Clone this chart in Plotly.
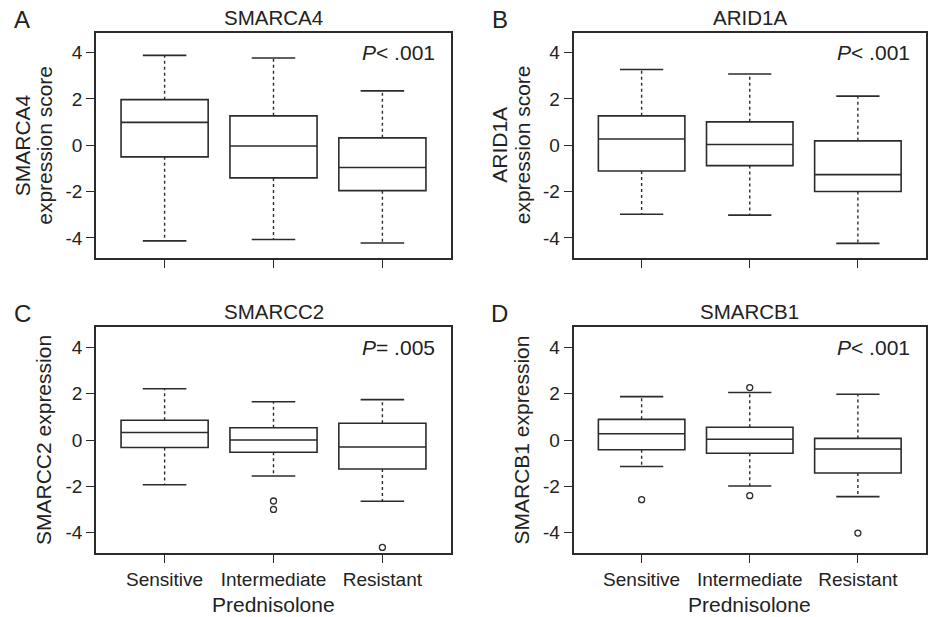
import plotly.graph_objects as go

W, H = 931, 617

categories = ["Sensitive", "Intermediate", "Resistant"]
ytick_vals = [-4, -2, 0, 2, 4]
ytick_text = ["-4", "-2", "0", "2", "4"]

panels = ["A", "B", "C", "D"]
titles = ["SMARCA4", "ARID1A", "SMARCC2", "SMARCB1"]
ylabels = [["SMARCA4", "expression score"], ["ARID1A", "expression score"],
           ["SMARCC2 expression"], ["SMARCB1 expression"]]
pvalues = ["<i>P</i>&lt; .001", "<i>P</i>&lt; .001", "<i>P</i>= .005", "<i>P</i>&lt; .001"]

# box statistics per panel: Sensitive, Intermediate, Resistant
lower_whisker = [[-4.13, -4.07, -4.22], [-2.98, -3.02, -4.24], [-1.93, -1.55, -2.64], [-1.14, -1.98, -2.44]]
q1_vals = [[-0.50, -1.41, -1.96], [-1.11, -0.88, -2.00], [-0.32, -0.53, -1.25], [-0.42, -0.57, -1.42]]
medians = [[0.99, -0.03, -0.96], [0.27, 0.03, -1.27], [0.32, 0.00, -0.30], [0.27, 0.03, -0.39]]
q3_vals = [[1.97, 1.27, 0.32], [1.27, 1.01, 0.19], [0.85, 0.53, 0.72], [0.89, 0.55, 0.07]]
upper_whisker = [[3.88, 3.77, 2.35], [3.27, 3.08, 2.12], [2.21, 1.65, 1.74], [1.87, 2.05, 1.97]]
outliers = [[[], [], []], [[], [], []], [[], [-2.63, -2.99], [-4.63]], [[-2.57], [2.26, -2.40], [-4.01]]]

# layout (pixel frames of each panel: left, right, top, bottom)
frames = [(96, 451, 32.5, 258), (573.5, 926, 32.5, 258), (96, 451, 327, 553), (573.5, 926, 327, 553)]

LINE = "#2b2b2b"
TEXT = "#222222"
FONT = "Liberation Sans, Arial, sans-serif"
BOX_W = 0.8
CAP_HALF = 0.2

def px(x):
    return x / W

def py(y):
    return 1 - y / H

fig = go.Figure()
annotations = []

for k in range(4):
    xa = "x" if k == 0 else f"x{k+1}"
    ya = "y" if k == 0 else f"y{k+1}"
    xpos = list(range(len(categories)))
    # dotted whiskers
    wx, wy = [], []
    cx, cy = [], []
    for i in xpos:
        wx += [i, i, None, i, i, None]
        wy += [q3_vals[k][i], upper_whisker[k][i], None, q1_vals[k][i], lower_whisker[k][i], None]
        cx += [i - CAP_HALF, i + CAP_HALF, None, i - CAP_HALF, i + CAP_HALF, None]
        cy += [upper_whisker[k][i], upper_whisker[k][i], None, lower_whisker[k][i], lower_whisker[k][i], None]
    fig.add_trace(go.Scatter(x=wx, y=wy, mode="lines", xaxis=xa, yaxis=ya,
                             line=dict(color=LINE, width=1.4, dash="dot"),
                             showlegend=False, hoverinfo="skip"))
    fig.add_trace(go.Scatter(x=cx, y=cy, mode="lines", xaxis=xa, yaxis=ya,
                             line=dict(color=LINE, width=1.6),
                             showlegend=False, hoverinfo="skip"))
    fig.add_trace(go.Box(x=xpos, q1=q1_vals[k], median=medians[k], q3=q3_vals[k],
                         lowerfence=q1_vals[k], upperfence=q3_vals[k],
                         width=BOX_W, whiskerwidth=0, boxpoints=False,
                         fillcolor="rgba(255,255,255,0)",
                         line=dict(color=LINE, width=1.6),
                         xaxis=xa, yaxis=ya, showlegend=False, hoverinfo="skip"))
    ox, oy = [], []
    for i in xpos:
        for v in outliers[k][i]:
            ox.append(i)
            oy.append(v)
    if ox:
        fig.add_trace(go.Scatter(x=ox, y=oy, mode="markers", xaxis=xa, yaxis=ya,
                                 marker=dict(symbol="circle-open", size=6, color=LINE,
                                             line=dict(width=1.3, color=LINE)),
                                 showlegend=False, hoverinfo="skip"))

    L, R, T, B = frames[k]
    bottom_row = k >= 2
    xkey = "xaxis" if k == 0 else f"xaxis{k+1}"
    ykey = "yaxis" if k == 0 else f"yaxis{k+1}"
    fig.layout[xkey] = dict(domain=[px(L), px(R)], anchor=ya, range=[-0.63, 2.63],
                            tickvals=xpos, ticktext=categories, showticklabels=bottom_row,
                            ticks="outside", ticklen=8, tickwidth=1.4, tickcolor=LINE,
                            showline=True, linecolor=LINE, linewidth=1.6, mirror=True,
                            showgrid=False, zeroline=False,
                            tickfont=dict(family=FONT, size=19, color=TEXT))
    fig.layout[ykey] = dict(domain=[py(B), py(T)], anchor=xa, range=[-4.87, 4.87],
                            tickvals=ytick_vals, ticktext=ytick_text,
                            ticks="outside", ticklen=8, tickwidth=1.4, tickcolor=LINE,
                            showline=True, linecolor=LINE, linewidth=1.6, mirror=True,
                            showgrid=False, zeroline=False,
                            tickfont=dict(family=FONT, size=19, color=TEXT))

    cxp = (L + R) / 2
    ctr_y = (T + B) / 2
    # title
    annotations.append(dict(text=titles[k], x=px(cxp), y=py(T - 15), xref="paper", yref="paper",
                            xanchor="center", yanchor="middle", showarrow=False,
                            font=dict(family=FONT, size=20.5, color=TEXT)))
    # panel letter
    annotations.append(dict(text=panels[k], x=px(L - 74), y=py(T - 13.5), xref="paper", yref="paper",
                            xanchor="center", yanchor="middle", showarrow=False,
                            font=dict(family=FONT, size=24, color=TEXT)))
    # p value
    annotations.append(dict(text=pvalues[k], x=px(R - 14), y=4.0, xref="paper", yref=ya,
                            xanchor="right", yanchor="middle", showarrow=False,
                            font=dict(family=FONT, size=21, color=TEXT)))
    # y label
    if len(ylabels[k]) == 2:
        offs = [L - 74, L - 51.5]
    else:
        offs = [L - 53]
    for txt, xo in zip(ylabels[k], offs):
        annotations.append(dict(text=txt, x=px(xo), y=py(ctr_y), xref="paper", yref="paper",
                                xanchor="center", yanchor="middle", textangle=-90, showarrow=False,
                                font=dict(family=FONT, size=21, color=TEXT)))
    if bottom_row:
        annotations.append(dict(text="Prednisolone", x=px(cxp), y=py(604), xref="paper", yref="paper",
                                xanchor="center", yanchor="middle", showarrow=False,
                                font=dict(family=FONT, size=21, color=TEXT)))

fig.update_layout(width=W, height=H, margin=dict(l=0, r=0, t=0, b=0),
                  paper_bgcolor="white", plot_bgcolor="white",
                  annotations=annotations, showlegend=False)

fig.write_html("out.html", config={"displayModeBar": False},
               post_script="document.body.style.margin='0';document.body.style.padding='0';document.body.style.overflow='hidden';")
